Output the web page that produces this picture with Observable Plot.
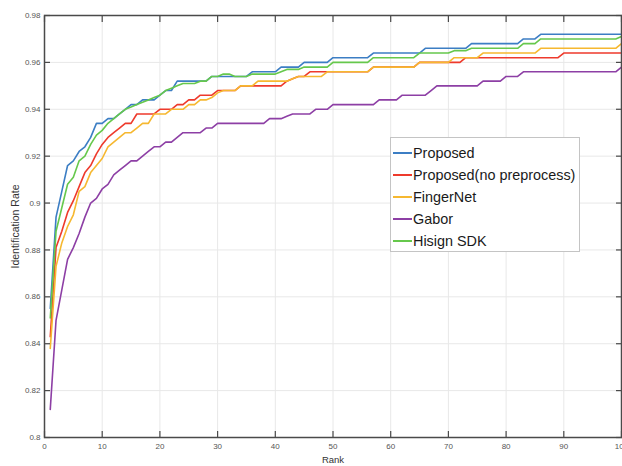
<!DOCTYPE html>
<html><head><meta charset="utf-8">
<script src="https://cdn.jsdelivr.net/npm/d3@7"></script>
<script src="https://cdn.jsdelivr.net/npm/@observablehq/plot@0.6"></script>
<style>
html,body{margin:0;padding:0;background:#fff;}
#wrap{position:relative;width:622px;height:466px;}
#legend{position:absolute;left:390px;top:137px;width:190px;height:115px;background:#fff;border:1px solid #c4c4c4;box-sizing:border-box;font-family:"Liberation Sans",Arial,sans-serif;font-size:14.4px;color:#1a1a1a;padding-top:4px;}
.row{display:flex;align-items:center;height:22px;white-space:nowrap;}
.sw{width:19px;height:0;border-top:2px solid;margin-left:2px;margin-right:1px;}
</style></head><body><div id="wrap"></div>
<script>
const seriesNames = ["Proposed", "Proposed(no preprocess)", "FingerNet", "Gabor", "Hisign SDK"];
const seriesColors = ["#3c7ec4", "#ee3a2c", "#f6b830", "#8d3fa5", "#66c84c"];
const xTicks = [0, 10, 20, 30, 40, 50, 60, 70, 80, 90, 100];
const yTicks = [0.8, 0.82, 0.84, 0.86, 0.88, 0.9, 0.92, 0.94, 0.96, 0.98];
const rank = d3.range(1, 101);

const proposed = [
 0.855,0.894,0.905,0.916,0.918,0.922,0.924,0.928,0.934,0.934,
 0.936,0.936,0.938,0.940,0.942,0.942,0.944,0.944,0.944,0.946,
 0.948,0.948,0.952,0.952,0.952,0.952,0.952,0.952,0.954,0.954,
 0.954,0.954,0.954,0.954,0.954,0.956,0.956,0.956,0.956,0.956,
 0.958,0.958,0.958,0.958,0.960,0.960,0.960,0.960,0.960,0.962,
 0.962,0.962,0.962,0.962,0.962,0.962,0.964,0.964,0.964,0.964,
 0.964,0.964,0.964,0.964,0.964,0.966,0.966,0.966,0.966,0.966,
 0.966,0.966,0.966,0.968,0.968,0.968,0.968,0.968,0.968,0.968,
 0.968,0.968,0.970,0.970,0.970,0.972,0.972,0.972,0.972,0.972,
 0.972,0.972,0.972,0.972,0.972,0.972,0.972,0.972,0.972,0.972];

const proposedNoPre = [
 0.843,0.881,0.888,0.896,0.901,0.907,0.913,0.916,0.921,0.925,
 0.928,0.930,0.932,0.934,0.934,0.938,0.938,0.938,0.938,0.940,
 0.940,0.940,0.942,0.942,0.944,0.944,0.946,0.946,0.946,0.948,
 0.948,0.948,0.948,0.950,0.950,0.950,0.950,0.950,0.950,0.950,
 0.950,0.952,0.953,0.954,0.954,0.956,0.956,0.956,0.956,0.956,
 0.956,0.956,0.956,0.956,0.956,0.956,0.958,0.958,0.958,0.958,
 0.958,0.958,0.958,0.958,0.960,0.960,0.960,0.960,0.960,0.960,
 0.960,0.960,0.962,0.962,0.962,0.962,0.962,0.962,0.962,0.962,
 0.962,0.962,0.962,0.962,0.962,0.962,0.962,0.962,0.962,0.964,
 0.964,0.964,0.964,0.964,0.964,0.964,0.964,0.964,0.964,0.964];

const fingerNet = [
 0.838,0.873,0.883,0.890,0.895,0.905,0.907,0.913,0.916,0.919,
 0.924,0.926,0.928,0.930,0.930,0.932,0.934,0.934,0.938,0.938,
 0.938,0.940,0.940,0.940,0.942,0.942,0.944,0.944,0.945,0.947,
 0.948,0.948,0.948,0.950,0.950,0.950,0.952,0.952,0.952,0.952,
 0.952,0.952,0.953,0.954,0.954,0.954,0.954,0.954,0.956,0.956,
 0.956,0.956,0.956,0.956,0.956,0.956,0.958,0.958,0.958,0.958,
 0.958,0.958,0.958,0.958,0.960,0.960,0.960,0.960,0.960,0.960,
 0.962,0.962,0.962,0.962,0.962,0.964,0.964,0.964,0.964,0.964,
 0.964,0.964,0.964,0.964,0.964,0.966,0.966,0.966,0.966,0.966,
 0.966,0.966,0.966,0.966,0.966,0.966,0.966,0.966,0.966,0.968];

const gabor = [
 0.812,0.850,0.863,0.876,0.881,0.887,0.894,0.900,0.902,0.906,
 0.908,0.912,0.914,0.916,0.918,0.918,0.920,0.922,0.924,0.924,
 0.926,0.926,0.928,0.930,0.930,0.930,0.930,0.932,0.932,0.934,
 0.934,0.934,0.934,0.934,0.934,0.934,0.934,0.934,0.936,0.936,
 0.936,0.937,0.938,0.938,0.938,0.938,0.940,0.940,0.940,0.942,
 0.942,0.942,0.942,0.942,0.942,0.942,0.942,0.944,0.944,0.944,
 0.944,0.946,0.946,0.946,0.946,0.946,0.948,0.950,0.950,0.950,
 0.950,0.950,0.950,0.950,0.950,0.952,0.952,0.952,0.952,0.954,
 0.954,0.954,0.956,0.956,0.956,0.956,0.956,0.956,0.956,0.956,
 0.956,0.956,0.956,0.956,0.956,0.956,0.956,0.956,0.956,0.958];

const hisign = [
 0.851,0.888,0.898,0.908,0.911,0.918,0.920,0.925,0.929,0.931,
 0.934,0.936,0.938,0.940,0.941,0.942,0.943,0.944,0.945,0.946,
 0.948,0.949,0.950,0.951,0.951,0.951,0.952,0.952,0.954,0.954,
 0.955,0.955,0.954,0.954,0.954,0.955,0.955,0.955,0.955,0.955,
 0.956,0.957,0.957,0.957,0.958,0.958,0.958,0.958,0.958,0.960,
 0.960,0.960,0.960,0.960,0.960,0.960,0.962,0.962,0.962,0.962,
 0.962,0.962,0.962,0.962,0.964,0.964,0.964,0.964,0.964,0.964,
 0.965,0.965,0.965,0.966,0.966,0.966,0.966,0.966,0.966,0.966,
 0.966,0.966,0.968,0.968,0.968,0.970,0.970,0.970,0.970,0.970,
 0.970,0.970,0.970,0.970,0.970,0.970,0.970,0.970,0.970,0.971];

const seriesValues = [proposed, proposedNoPre, fingerNet, gabor, hisign];
const data = [];
seriesNames.forEach((name, i) => seriesValues[i].forEach((v, j) => data.push({rank: rank[j], rate: v, series: name})));

const axisColor = "#4a4a4a";
const fmtY = d => String(+d.toFixed(2));

const chart = Plot.plot({
  width: 622, height: 466,
  marginTop: 15, marginBottom: 29, marginLeft: 44, marginRight: 1,
  style: {fontFamily: "'Liberation Sans', Arial, sans-serif", fontSize: "8px", color: "#555", background: "#fff", overflow: "visible"},
  x: {domain: [0, 100], label: null},
  y: {domain: [0.8, 0.98], label: null},
  color: {domain: seriesNames, range: seriesColors},
  marks: [
    Plot.gridX(xTicks, {stroke: "#e8e8e8", strokeOpacity: 1}),
    Plot.gridY(yTicks, {stroke: "#e8e8e8", strokeOpacity: 1}),
    Plot.line(data, {x: "rank", y: "rate", z: "series", stroke: "series", strokeWidth: 1.6}),
    Plot.frame({stroke: axisColor, strokeWidth: 1.5}),
    Plot.axisX(xTicks, {anchor: "bottom", tickSize: 0, tickPadding: 6, tickFormat: d => String(d), label: null}),
    Plot.axisX(xTicks, {anchor: "bottom", tickSize: 6, dy: -6, tickFormat: () => "", stroke: axisColor, strokeWidth: 1.2, label: null}),
    Plot.axisX(xTicks, {anchor: "top", tickSize: 6, dy: 6, tickFormat: () => "", stroke: axisColor, strokeWidth: 1.2, label: null}),
    Plot.axisY(yTicks, {anchor: "left", tickSize: 0, tickPadding: 4, tickFormat: fmtY, label: null}),
    Plot.axisY(yTicks, {anchor: "left", tickSize: 6, dx: 6, tickFormat: () => "", stroke: axisColor, strokeWidth: 1.2, label: null}),
    Plot.axisY(yTicks, {anchor: "right", tickSize: 6, dx: -6, tickFormat: () => "", stroke: axisColor, strokeWidth: 1.2, label: null}),
    Plot.text(["Identification Rate"], {frameAnchor: "left", textAnchor: "middle", rotate: -90, dx: -29, fontSize: 10.5, fill: "#333"}),
    Plot.text(["Rank"], {frameAnchor: "bottom", textAnchor: "middle", dy: 25, fontSize: 9.5, fill: "#333"})
  ]
});

const wrap = document.getElementById("wrap");
wrap.appendChild(chart);
const legend = document.createElement("div");
legend.id = "legend";
seriesNames.forEach((name, i) => {
  const row = document.createElement("div");
  row.className = "row";
  const sw = document.createElement("span");
  sw.className = "sw";
  sw.style.borderTopColor = seriesColors[i];
  const t = document.createElement("span");
  t.textContent = name;
  row.appendChild(sw); row.appendChild(t);
  legend.appendChild(row);
});
wrap.appendChild(legend);
</script>
</body></html>
